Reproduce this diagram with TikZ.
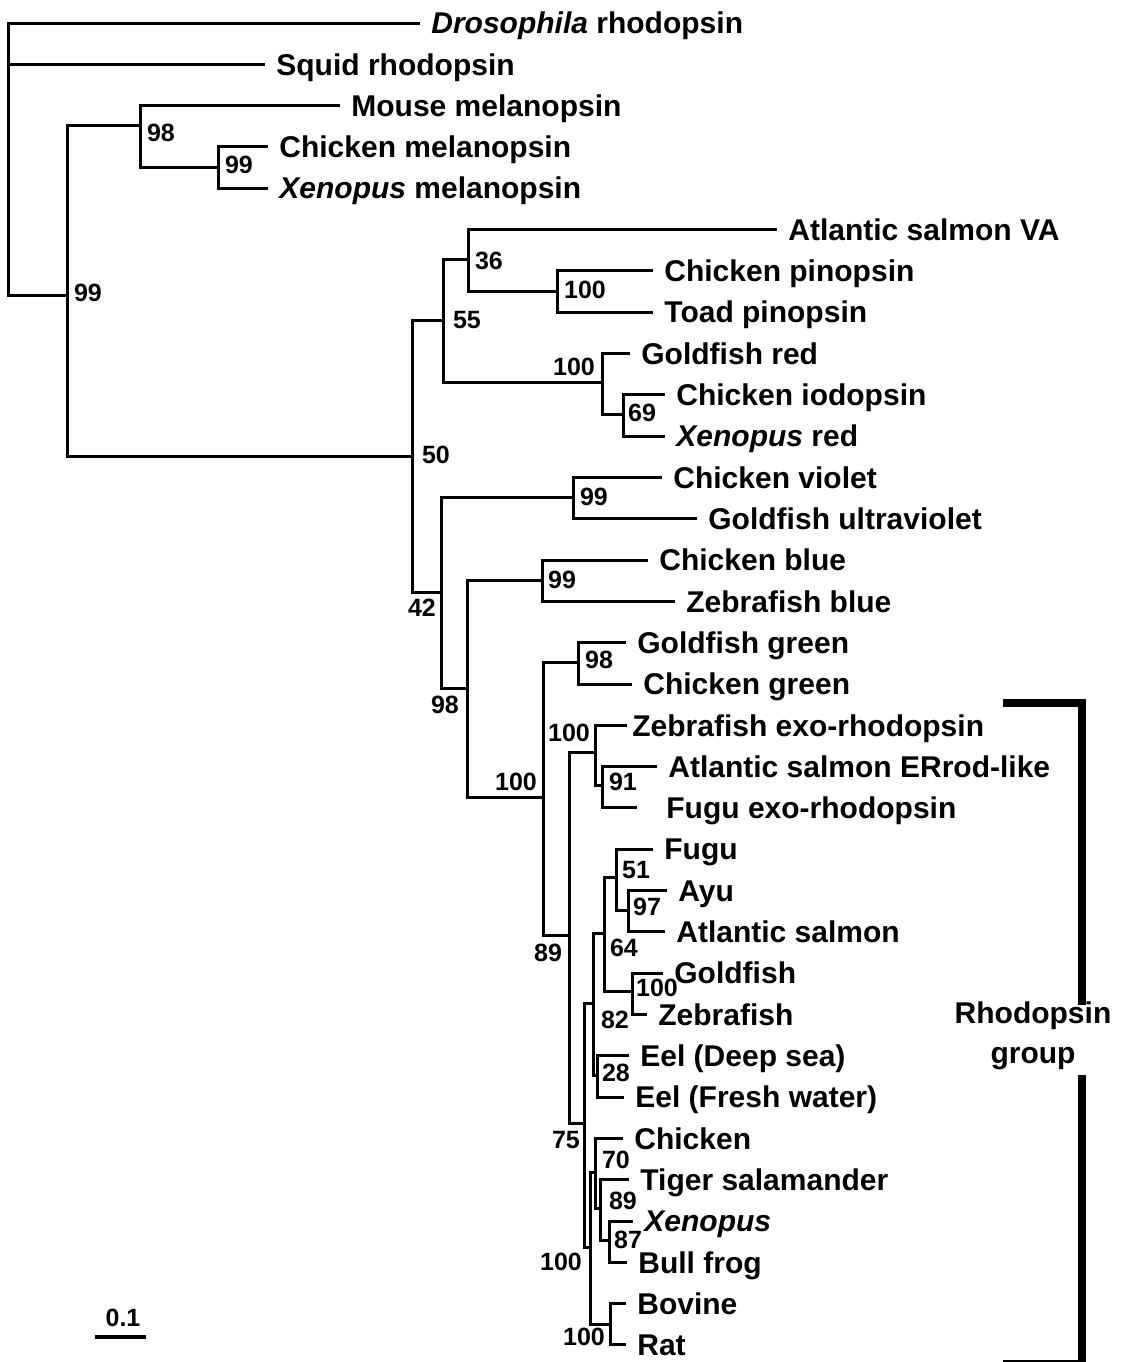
\documentclass[tikz,border=0pt]{standalone}
\usepackage{fontspec}
\setmainfont{Liberation Sans}
\newcommand{\leaffont}{\fontsize{15}{18}\selectfont\bfseries}
\newcommand{\groupfont}{\fontsize{15}{20}\selectfont\bfseries}
\newcommand{\bootfont}{\fontsize{12.5}{15}\selectfont\bfseries}

\begin{document}
\begin{tikzpicture}[x=0.5pt,y=-0.5pt]
\tikzstyle{branch}=[line width=1.5pt]
\tikzstyle{leaf}=[anchor=west,inner xsep=5.5pt,inner ysep=0pt,text height=10.7pt,text depth=0pt,font=\leaffont]
\tikzstyle{boot}=[inner sep=0pt,font=\bootfont]
\tikzstyle{bracket}=[line width=4pt]
\useasboundingbox (0,0) rectangle (1140,1362);

\node [leaf] (dros) at (420,23) {\textit{Drosophila} rhodopsin};
\node [leaf] (squid) at (265,64.3) {Squid rhodopsin};
\node [leaf] (mmel) at (340,105.6) {Mouse melanopsin};
\node [leaf] (cmel) at (268,146.9) {Chicken melanopsin};
\node [leaf] (xmel) at (268,188.2) {\textit{Xenopus} melanopsin};
\node [leaf] (asva) at (777,229.6) {Atlantic salmon VA};
\node [leaf] (cpin) at (653,270.9) {Chicken pinopsin};
\node [leaf] (tpin) at (653,312.2) {Toad pinopsin};
\node [leaf] (gfred) at (630,353.5) {Goldfish red};
\node [leaf] (ciodo) at (665,394.8) {Chicken iodopsin};
\node [leaf] (xred) at (665,436.1) {\textit{Xenopus} red};
\node [leaf] (cviol) at (662,477.4) {Chicken violet};
\node [leaf] (gfuv) at (697,518.7) {Goldfish ultraviolet};
\node [leaf] (cblue) at (648,560) {Chicken blue};
\node [leaf] (zfblue) at (675,601.3) {Zebrafish blue};
\node [leaf] (gfgreen) at (626,642.7) {Goldfish green};
\node [leaf] (cgreen) at (632,684) {Chicken green};
\node [leaf,inner xsep=2.5pt] (zfexo) at (627,725.3) {Zebrafish exo-rhodopsin};
\node [leaf] (aserr) at (657,766.6) {Atlantic salmon ERrod-like};
\node [leaf,inner xsep=14.5pt] (fuexo) at (637,807.9) {Fugu exo-rhodopsin};
\node [leaf] (fugu) at (653,849.2) {Fugu};
\node [leaf] (ayu) at (667,890.5) {Ayu};
\node [leaf] (asal) at (665,931.8) {Atlantic salmon};
\node [leaf] (gfish) at (663,973.1) {Goldfish};
\node [leaf] (zfish) at (647,1014.4) {Zebrafish};
\node [leaf] (eeld) at (629,1055.8) {Eel (Deep sea)};
\node [leaf] (eelf) at (624,1097.1) {Eel (Fresh water)};
\node [leaf] (chick) at (623,1138.4) {Chicken};
\node [leaf] (tiger) at (629,1179.7) {Tiger salamander};
\node [leaf] (xen) at (633,1221) {\textit{Xenopus}};
\node [leaf] (bull) at (627,1262.3) {Bull frog};
\node [leaf] (bov) at (626,1303.6) {Bovine};
\node [leaf] (rat) at (626,1344.9) {Rat};

\coordinate (root) at (8,160);
\coordinate (nA) at (67,295);
\coordinate (nMel) at (140,125);
\coordinate (nCX) at (218,167);
\coordinate (n50) at (412,456);
\coordinate (n55) at (443,320);
\coordinate (n36) at (468,259);
\coordinate (nPin) at (557,291);
\coordinate (nRed) at (602,382);
\coordinate (nIodo) at (623,414);
\coordinate (n42) at (441,592);
\coordinate (nViolet) at (573,497);
\coordinate (n98) at (467,688);
\coordinate (nBlue) at (542,580);
\coordinate (n100) at (543,797);
\coordinate (nGreen) at (578,662);
\coordinate (n89) at (569,935);
\coordinate (nExo) at (595,752);
\coordinate (n91) at (602,785);
\coordinate (n75) at (584,1123);
\coordinate (n82) at (593,1003);
\coordinate (n64) at (604,933);
\coordinate (n51) at (616,877);
\coordinate (n97) at (628,910);
\coordinate (nGF) at (632,991);
\coordinate (nEel) at (597,1075);
\coordinate (nTetra) at (590,1247);
\coordinate (n70) at (595,1172);
\coordinate (nAmph) at (600,1208);
\coordinate (n87) at (609,1240);
\coordinate (nMam) at (610,1324);

\draw [branch] (root) |- (dros.west);
\draw [branch] (root) |- (squid.west);
\draw [branch] (root) |- (nA);
\draw [branch] (nA) |- (nMel);
\draw [branch] (nA) |- (n50);
\draw [branch] (nMel) |- (mmel.west);
\draw [branch] (nMel) |- (nCX);
\draw [branch] (nCX) |- (cmel.west);
\draw [branch] (nCX) |- (xmel.west);
\draw [branch] (n50) |- (n55);
\draw [branch] (n50) |- (n42);
\draw [branch] (n55) |- (n36);
\draw [branch] (n55) |- (nRed);
\draw [branch] (n36) |- (asva.west);
\draw [branch] (n36) |- (nPin);
\draw [branch] (nPin) |- (cpin.west);
\draw [branch] (nPin) |- (tpin.west);
\draw [branch] (nRed) |- (gfred.west);
\draw [branch] (nRed) |- (nIodo);
\draw [branch] (nIodo) |- (ciodo.west);
\draw [branch] (nIodo) |- (xred.west);
\draw [branch] (n42) |- (nViolet);
\draw [branch] (n42) |- (n98);
\draw [branch] (nViolet) |- (cviol.west);
\draw [branch] (nViolet) |- (gfuv.west);
\draw [branch] (n98) |- (nBlue);
\draw [branch] (n98) |- (n100);
\draw [branch] (nBlue) |- (cblue.west);
\draw [branch] (nBlue) |- (zfblue.west);
\draw [branch] (n100) |- (nGreen);
\draw [branch] (n100) |- (n89);
\draw [branch] (nGreen) |- (gfgreen.west);
\draw [branch] (nGreen) |- (cgreen.west);
\draw [branch] (n89) |- (nExo);
\draw [branch] (n89) |- (n75);
\draw [branch] (nExo) |- (zfexo.west);
\draw [branch] (nExo) |- (n91);
\draw [branch] (n91) |- (aserr.west);
\draw [branch] (n91) |- (fuexo.west);
\draw [branch] (n75) |- (n82);
\draw [branch] (n75) |- (nTetra);
\draw [branch] (n82) |- (n64);
\draw [branch] (n82) |- (nEel);
\draw [branch] (n64) |- (n51);
\draw [branch] (n64) |- (nGF);
\draw [branch] (n51) |- (fugu.west);
\draw [branch] (n51) |- (n97);
\draw [branch] (n97) |- (ayu.west);
\draw [branch] (n97) |- (asal.west);
\draw [branch] (nGF) |- (gfish.west);
\draw [branch] (nGF) |- (zfish.west);
\draw [branch] (nEel) |- (eeld.west);
\draw [branch] (nEel) |- (eelf.west);
\draw [branch] (nTetra) |- (n70);
\draw [branch] (nTetra) |- (nMam);
\draw [branch] (n70) |- (chick.west);
\draw [branch] (n70) |- (nAmph);
\draw [branch] (nAmph) |- (tiger.west);
\draw [branch] (nAmph) |- (n87);
\draw [branch] (n87) |- (xen.west);
\draw [branch] (n87) |- (bull.west);
\draw [branch] (nMam) |- (bov.west);
\draw [branch] (nMam) |- (rat.west);

\node [boot] (bA) at (88,293) {99};
\node [boot] (bMel) at (161,133) {98};
\node [boot] (bCX) at (239,165) {99};
\node [boot] (b50) at (436,455) {50};
\node [boot] (b55) at (467,320) {55};
\node [boot] (b36) at (489,261) {36};
\node [boot] (bPin) at (585,290) {100};
\node [boot] (bRed) at (574,367) {100};
\node [boot] (bIodo) at (642,413) {69};
\node [boot] (b42) at (422,608) {42};
\node [boot] (bViolet) at (594,497) {99};
\node [boot] (b98) at (445,705) {98};
\node [boot] (bBlue) at (562,580) {99};
\node [boot] (b100) at (516,782) {100};
\node [boot] (bGreen) at (599,660) {98};
\node [boot] (bExo) at (569,733) {100};
\node [boot] (b91) at (623,782) {91};
\node [boot] (b89) at (548,953) {89};
\node [boot] (b51) at (636,870) {51};
\node [boot] (b97) at (647,907) {97};
\node [boot] (b64) at (624,948) {64};
\node [boot] (bGF) at (657,988) {100};
\node [boot] (b82) at (615,1020) {82};
\node [boot] (bEel) at (616,1073) {28};
\node [boot] (b75) at (566,1140) {75};
\node [boot] (b70) at (616,1160) {70};
\node [boot] (bAmph) at (623,1201) {89};
\node [boot] (b87) at (628,1240) {87};
\node [boot] (bTetra) at (561,1262) {100};
\node [boot] (bMam) at (584,1337) {100};

\node [boot] (scale) at (123,1318) {0.1};
\coordinate (sbL) at (95,1337);
\coordinate (sbR) at (146,1337);
\draw [line width=1.75pt] (sbL) -- (sbR);

\node [align=center,inner sep=0pt,font=\groupfont] (rgroup) at (1033,1036) {Rhodopsin\\group};
\coordinate (rgA) at (1003,703);
\coordinate (rgB) at (1082,1005);
\coordinate (rgC) at (1082,1075);
\coordinate (rgD) at (1003,1364);
\draw [bracket] (rgA) -| (rgB);
\draw [bracket] (rgC) |- (rgD);
\end{tikzpicture}
\end{document}
